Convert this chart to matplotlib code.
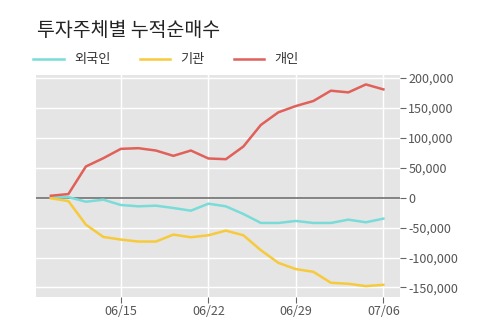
import matplotlib
matplotlib.use('Agg')
import matplotlib.pyplot as plt
from matplotlib.ticker import FuncFormatter

plt.rcParams['font.family'] = ['Noto Sans CJK KR', 'DejaVu Sans']

# 2020 trading days
dates = ['06/09', '06/10', '06/11', '06/12', '06/15', '06/16', '06/17', '06/18', '06/19', '06/22',
         '06/23', '06/24', '06/25', '06/26', '06/29', '06/30', '07/01', '07/02', '07/03', '07/06']
foreign = [0, 1000, -6700, -3300, -12200, -14400, -13300, -17200, -21700, -10000,
           -14400, -27200, -42200, -42200, -38900, -42200, -42200, -36700, -41100, -35000]
institution = [-1000, -5600, -45000, -65600, -70000, -73300, -73300, -61700, -66100, -62800,
               -55000, -62800, -87800, -108900, -119400, -123900, -142200, -143900, -147800, -145600]
individual = [3300, 6100, 52200, 66100, 81700, 82800, 78900, 70000, 78900, 65600,
              64400, 85600, 121700, 142800, 153300, 161700, 178900, 176100, 189400, 181100]
tick_labels = ['06/15', '06/22', '06/29', '07/06']
yticks = [-150000, -100000, -50000, 0, 50000, 100000, 150000, 200000]

fig = plt.figure(figsize=(5, 3.23), dpi=100)
ax = fig.add_axes([0.072, 0.0805, 0.728, 0.687])
ax.set_facecolor('#e5e5e5')

x = list(range(len(dates)))
ax.grid(True, color='white', linewidth=1.0)
ax.set_axisbelow(True)
ax.axhline(0, color='#707070', linewidth=1.2, zorder=2)

l1, = ax.plot(x, foreign, color='#79dcd9', linewidth=1.8, label='외국인', zorder=3)
l2, = ax.plot(x, institution, color='#f7ca3c', linewidth=1.8, label='기관', zorder=3)
l3, = ax.plot(x, individual, color='#e0605a', linewidth=1.8, label='개인', zorder=3)

ax.set_xlim(-0.85, 19.95)
ax.set_ylim(-166000, 205000)
ax.set_xticks([dates.index(d) for d in tick_labels])
ax.set_xticklabels(tick_labels)
ax.set_yticks(yticks)
ax.yaxis.set_major_formatter(FuncFormatter(lambda v, _: '{:,.0f}'.format(v)))
ax.yaxis.tick_right()

for s in ax.spines.values():
    s.set_visible(False)
ax.tick_params(axis='both', colors='#666666', labelcolor='#555555', labelsize=9,
               length=4, width=0.8, pad=2)

fig.text(0.074, 0.905, '투자주체별 누적순매수', fontsize=14, color='#222222', va='center')
fig.legend(handles=[l1, l2, l3], loc='center left', bbox_to_anchor=(0.048, 0.815),
           ncol=3, frameon=False, fontsize=9.5, handlelength=2.3, handletextpad=0.8,
           columnspacing=2.2, labelcolor='#333333', borderpad=0.2)

plt.savefig('out.png', dpi=100)
